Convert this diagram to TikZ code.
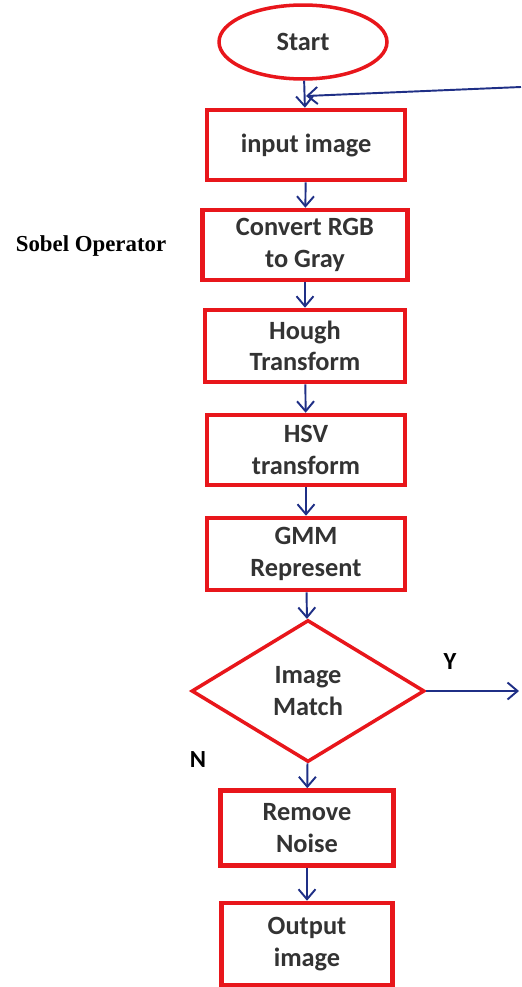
\documentclass[tikz,border=0pt]{standalone}
\usepackage{fontspec}
\setmainfont{Carlito}
\newfontfamily\sobelfont{Liberation Serif}
\usepackage{tikz}
\usetikzlibrary{shapes.geometric,arrows.meta}
\definecolor{boxred}{HTML}{E8161B}
\definecolor{arrowblue}{HTML}{1F2F86}

\begin{document}
\begin{tikzpicture}[x=0.02cm,y=-0.02cm]
    \tikzstyle{stepbox}=[rectangle,draw=boxred,line width=2.6pt,align=center,font=\fontsize{15}{18}\selectfont\bfseries,text=black!80]
    \tikzstyle{startnode}=[ellipse,draw=boxred,line width=2pt,minimum width=3.36cm,minimum height=1.48cm,font=\fontsize{15}{18}\selectfont\bfseries,text=black!80]
    \tikzstyle{decision}=[diamond,draw=boxred,line width=2pt,minimum width=4.66cm,minimum height=2.84cm,inner sep=0pt,align=center,font=\fontsize{15}{18}\selectfont\bfseries,text=black!80]
    \tikzstyle{flow}=[draw=arrowblue,line width=1.1pt,-{Straight Barb[length=2mm,width=3.4mm]}]
    \tikzstyle{tag}=[font=\fontsize{14}{16}\selectfont\bfseries]
    \useasboundingbox (0,0) rectangle (521,987);
    % chain of steps
    \node[startnode] (start) at (303,42) {Start};
    \node[stepbox,minimum width=3.96cm,minimum height=1.4cm] (input) at (306,145) {input image};
    \node[stepbox,minimum width=4.1cm,minimum height=1.4cm] (convert) at (305,245) {Convert RGB\\to Gray};
    \node[stepbox,minimum width=4.0cm,minimum height=1.44cm] (hough) at (305,346) {Hough\\Transform};
    \node[stepbox,minimum width=3.96cm,minimum height=1.4cm] (hsv) at (306,450) {HSV\\transform};
    \node[stepbox,minimum width=3.96cm,minimum height=1.44cm] (gmm) at (306,554) {GMM\\Represent};
    \node[decision] (match) at (308,691) {Image\\Match};
    \node[stepbox,minimum width=3.46cm,minimum height=1.5cm] (noise) at (307,828) {Remove\\Noise};
    \node[stepbox,minimum width=3.42cm,minimum height=1.64cm] (output) at (307,944) {Output\\image};
    % side labels
    \node[font=\fontsize{13}{15}\selectfont\sobelfont\bfseries] (sobel) at (91,246) {Sobel Operator};
    \node[tag] (yes) at (450,662) {Y};
    \node[tag] (no) at (198,760) {N};
    \coordinate (join) at (306,96);
    \coordinate (back) at (521,87);
    \coordinate (yend) at (519,691);
    % connectors
    \draw[flow] (start) -- (input);
    \draw[flow] (input) -- (convert);
    \draw[flow] (convert) -- (hough);
    \draw[flow] (hough) -- (hsv);
    \draw[flow] (hsv) -- (gmm);
    \draw[flow] (gmm) -- (match);
    \draw[flow] (match) -- (noise);
    \draw[flow] (noise) -- (output);
    \draw[flow] (back) -- (join);
    \draw[flow] (match.east) -- (yend);
  \end{tikzpicture}
\end{document}
